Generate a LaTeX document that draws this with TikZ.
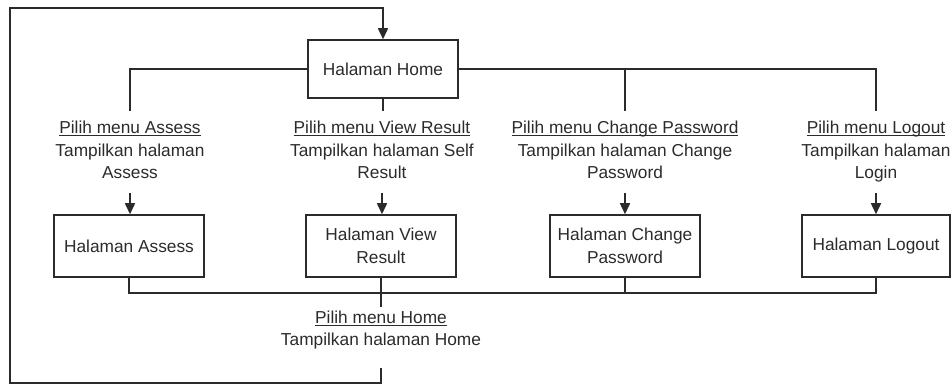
\documentclass[tikz,border=0pt]{standalone}
\usepackage{fontspec}
\setmainfont{Liberation Sans}
\usetikzlibrary{arrows.meta}
\definecolor{ink}{HTML}{2B2B2B}
\newcommand{\lastline}[1]{#1\vphantom{g}}
% underline at a fixed depth, crossing descenders
\newcommand{\menuline}[1]{\setbox0\hbox{#1}\rlap{\rule[-2.2pt]{\wd0}{0.8pt}}\box0}
\begin{document}
\begin{tikzpicture}[x=1pt,y=-1pt,
  every node/.style={font=\fontsize{17.3}{22.5}\selectfont, text=ink},
  page/.style={draw=ink, line width=1.5pt, minimum width=150pt, minimum height=62pt, align=center, inner sep=2pt},
  action/.style={align=center, inner xsep=2pt, inner ysep=10pt},
  link/.style={draw=ink, line width=1.5pt},
  flow/.style={link, -{Triangle[width=10pt,length=11pt]}}]
\useasboundingbox (0,0) rectangle (951,385);

% home page and the menu choices
\node[page, minimum height=58pt] (home) at (383,69) {Halaman Home};
\node[action] (la) at (130,151.8) {\menuline{Pilih menu Assess}\\Tampilkan halaman\\\lastline{Assess}};
\node[action] (lv) at (382,151.8) {\menuline{Pilih menu View Result}\\Tampilkan halaman Self\\\lastline{Result}};
\node[action] (lc) at (625,151.8) {\menuline{Pilih menu Change Password}\\Tampilkan halaman Change\\\lastline{Password}};
\node[action] (ll) at (876,151.8) {\menuline{Pilih menu Logout}\\Tampilkan halaman\\\lastline{Login}};

% target pages
\node[page] (assess) at (129,246) {Halaman Assess};
\node[page] (view) at (381,246) {Halaman View\\Result};
\node[page] (change) at (625,246) {Halaman Change\\Password};
\node[page, minimum width=148pt] (logout) at (876,246) {Halaman Logout};

% way back home
\node[action, inner ysep=3pt] (lh) at (381,330) {\menuline{Pilih menu Home}\\Tampilkan halaman Home};

\coordinate (cornerBL) at (10,383);
\coordinate (cornerTL) at (10,8);

% upper bus
\draw[link] (home.west) -| (la.north);
\draw[link] (home.east) -| (ll.north);
\draw[link] (home.south) -- (home.south |- lv.north);
\draw[link] (lc.north |- home.east) -- (lc.north);

% choices lead to pages
\draw[flow] (la.south) -- (la.south |- assess.north);
\draw[flow] (lv.south) -- (lv.south |- view.north);
\draw[flow] (lc.south) -- (lc.south |- change.north);
\draw[flow] (ll.south) -- (ll.south |- logout.north);

% lower bus
\draw[link] (assess.south) -- ++(0,15) -| (logout.south);
\draw[link] (change.south) -- ++(0,15);
\draw[link] (view.south) -- (view.south |- lh.north);

% loop back to the home page
\draw[flow] ([yshift=-15pt]lh.south) |- (cornerBL) -- (cornerTL) -| (home.north);
\end{tikzpicture}
\end{document}
